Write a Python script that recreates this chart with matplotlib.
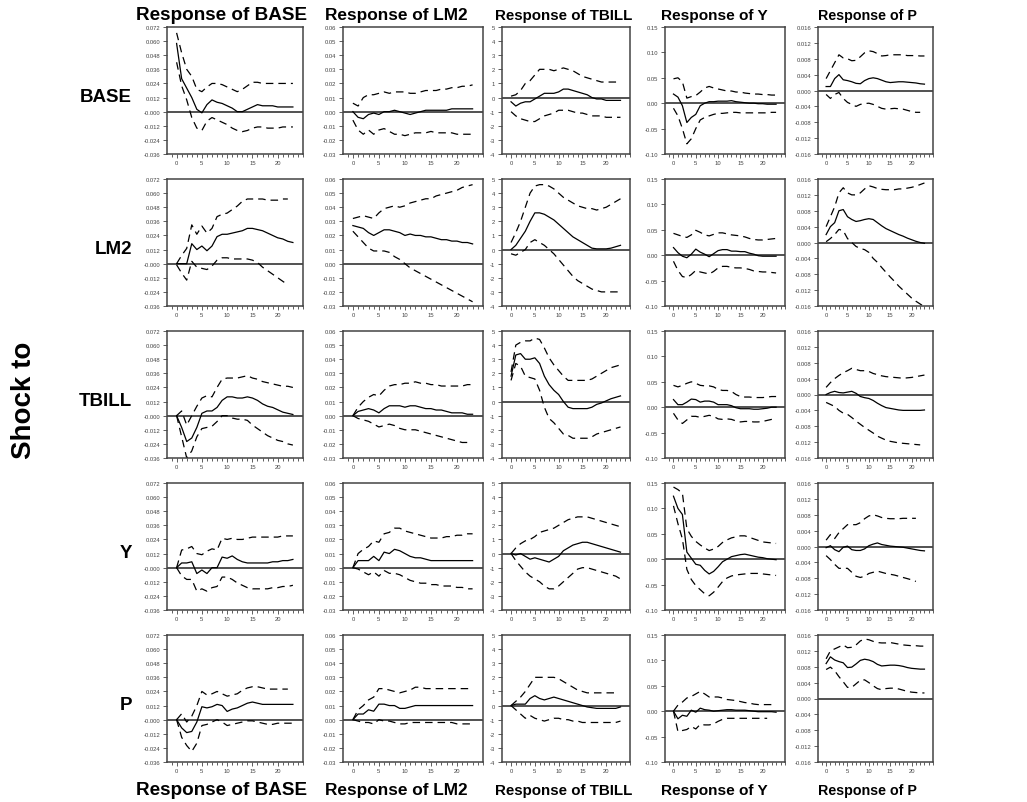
import matplotlib
matplotlib.use('Agg')
import matplotlib.pyplot as plt
from matplotlib.ticker import MultipleLocator

plt.rcParams['font.family'] = ['Liberation Sans', 'DejaVu Sans']

variables = ['BASE', 'LM2', 'TBILL', 'Y', 'P']

# y axis ticks of each response column
base_ticks = [-0.036, -0.024, -0.012, 0.0, 0.012, 0.024, 0.036, 0.048, 0.060, 0.072]
base_labels = ['-0.036', '-0.024', '-0.012', '-0.000', '0.012', '0.024', '0.036',
               '0.048', '0.060', '0.072']
lm2_ticks = [-0.03, -0.02, -0.01, 0.0, 0.01, 0.02, 0.03, 0.04, 0.05, 0.06]
lm2_labels = ['-0.03', '-0.02', '-0.01', '0.00', '0.01', '0.02', '0.03', '0.04',
              '0.05', '0.06']
tbill_ticks = [-4, -3, -2, -1, 0, 1, 2, 3, 4, 5]
tbill_labels = ['-4', '-3', '-2', '-1', '0', '1', '2', '3', '4', '5']
y_ticks = [-0.10, -0.05, 0.0, 0.05, 0.10, 0.15]
y_labels = ['-0.10', '-0.05', '0.00', '0.05', '0.10', '0.15']
p_ticks = [-0.016, -0.012, -0.008, -0.004, 0.0, 0.004, 0.008, 0.012, 0.016]
p_labels = ['-0.016', '-0.012', '-0.008', '-0.004', '0.000', '0.004', '0.008',
            '0.012', '0.016']

# (response, upper band, lower band) for shock -> response
BASE_BASE = (
    [0.058, 0.028, 0.020, 0.012, 0.002, -0.001, 0.006, 0.010, 0.008, 0.007, 0.005, 0.003,
     0.000, 0.000, 0.002, 0.004, 0.006, 0.005, 0.005, 0.005, 0.004, 0.004, 0.004, 0.004],
    [0.067, 0.050, 0.036, 0.030, 0.019, 0.017, 0.021, 0.024, 0.024, 0.023, 0.021, 0.019,
     0.017, 0.019, 0.022, 0.025, 0.025, 0.024, 0.024, 0.024, 0.024, 0.024, 0.024, 0.024],
    [0.042, 0.022, 0.010, -0.005, -0.014, -0.016, -0.008, -0.005, -0.007, -0.009, -0.011, -0.014,
     -0.016, -0.017, -0.016, -0.014, -0.013, -0.013, -0.014, -0.014, -0.014, -0.013, -0.013, -0.013])
BASE_LM2 = (
    [0.000, -0.004, -0.005, -0.002, -0.001, -0.002, 0.000, 0.000, 0.001, 0.000, -0.001, -0.002,
     -0.001, 0.000, 0.001, 0.001, 0.001, 0.001, 0.001, 0.002, 0.002, 0.002, 0.002, 0.002],
    [0.006, 0.004, 0.010, 0.012, 0.012, 0.013, 0.014, 0.013, 0.014, 0.014, 0.014, 0.013,
     0.013, 0.014, 0.015, 0.015, 0.015, 0.016, 0.016, 0.017, 0.017, 0.018, 0.018, 0.019],
    [-0.006, -0.013, -0.016, -0.013, -0.016, -0.013, -0.012, -0.014, -0.016, -0.016, -0.017, -0.016,
     -0.015, -0.015, -0.015, -0.014, -0.015, -0.015, -0.015, -0.015, -0.016, -0.016, -0.016, -0.016])
BASE_TBILL = (
    [-0.3, -0.6, -0.4, -0.3, -0.3, -0.1, 0.1, 0.3, 0.3, 0.3, 0.4, 0.6,
     0.6, 0.5, 0.4, 0.3, 0.2, 0.0, -0.1, -0.1, -0.2, -0.2, -0.2, -0.2],
    [0.1, 0.2, 0.5, 1.0, 1.2, 1.6, 2.0, 2.0, 2.0, 1.9, 2.0, 2.1,
     2.0, 1.9, 1.7, 1.5, 1.4, 1.3, 1.2, 1.1, 1.1, 1.1, 1.1, 1.1],
    [-1.0, -1.3, -1.5, -1.6, -1.7, -1.7, -1.5, -1.3, -1.2, -1.1, -0.9, -0.9,
     -0.9, -1.0, -1.1, -1.1, -1.2, -1.3, -1.3, -1.3, -1.4, -1.4, -1.4, -1.4])
BASE_Y = (
    [0.018, 0.012, -0.005, -0.038, -0.028, -0.022, -0.005, 0.000, 0.003, 0.003, 0.004, 0.004,
     0.004, 0.005, 0.003, 0.002, 0.001, 0.000, 0.000, -0.001, -0.001, -0.002, -0.002, -0.002],
    [0.048, 0.050, 0.042, 0.010, 0.013, 0.015, 0.022, 0.030, 0.033, 0.030, 0.028, 0.026,
     0.024, 0.024, 0.022, 0.022, 0.020, 0.019, 0.018, 0.018, 0.017, 0.017, 0.016, 0.016],
    [-0.010, -0.025, -0.050, -0.080, -0.070, -0.050, -0.033, -0.028, -0.025, -0.022, -0.020, -0.020,
     -0.019, -0.018, -0.018, -0.019, -0.019, -0.019, -0.019, -0.019, -0.019, -0.019, -0.018, -0.018])
BASE_P = (
    [0.0010, 0.0010, 0.0030, 0.0040, 0.0027, 0.0025, 0.0022, 0.0018, 0.0017, 0.0025, 0.0030, 0.0032,
     0.0030, 0.0026, 0.0022, 0.0020, 0.0021, 0.0022, 0.0022, 0.0021, 0.0020, 0.0019, 0.0017, 0.0016],
    [0.0030, 0.0050, 0.0070, 0.0090, 0.0082, 0.0080, 0.0075, 0.0076, 0.0085, 0.0095, 0.0100, 0.0098,
     0.0093, 0.0087, 0.0088, 0.0090, 0.0090, 0.0090, 0.0090, 0.0088, 0.0088, 0.0088, 0.0087, 0.0087],
    [-0.0010, -0.0020, -0.0010, -0.0005, -0.0020, -0.0030, -0.0035, -0.0040, -0.0035, -0.0033, -0.0032,
     -0.0035, -0.0040, -0.0045, -0.0047, -0.0046, -0.0045, -0.0046, -0.0047, -0.0050, -0.0053, -0.0055,
     -0.0055])

LM2_BASE = (
    [0.000, 0.000, 0.000, 0.017, 0.012, 0.015, 0.011, 0.015, 0.023, 0.025, 0.025, 0.026,
     0.027, 0.028, 0.030, 0.030, 0.029, 0.028, 0.026, 0.024, 0.022, 0.021, 0.019, 0.018],
    [0.000, 0.007, 0.013, 0.033, 0.025, 0.032, 0.026, 0.030, 0.040, 0.042, 0.043, 0.046,
     0.049, 0.053, 0.055, 0.055, 0.055, 0.055, 0.054, 0.054, 0.054, 0.055, 0.055],
    [-0.001, -0.008, -0.014, 0.002, -0.003, -0.004, -0.005, -0.002, 0.003, 0.005, 0.005, 0.004,
     0.004, 0.004, 0.004, 0.003, 0.001, -0.003, -0.006, -0.009, -0.012, -0.015, -0.018])
LM2_LM2 = (
    [0.027, 0.026, 0.025, 0.022, 0.020, 0.022, 0.024, 0.024, 0.023, 0.022, 0.020, 0.021,
     0.020, 0.020, 0.019, 0.019, 0.018, 0.017, 0.017, 0.016, 0.016, 0.015, 0.015, 0.014],
    [0.032, 0.033, 0.034, 0.033, 0.032, 0.036, 0.039, 0.040, 0.041, 0.040, 0.041, 0.043,
     0.044, 0.045, 0.046, 0.046, 0.048, 0.049, 0.050, 0.051, 0.052, 0.054, 0.055, 0.056],
    [0.023, 0.019, 0.015, 0.011, 0.009, 0.009, 0.009, 0.008, 0.005, 0.003, 0.000, -0.003,
     -0.005, -0.007, -0.009, -0.011, -0.013, -0.015, -0.017, -0.019, -0.021, -0.023, -0.025, -0.027])
LM2_TBILL = (
    [0.0, 0.3, 0.8, 1.3, 2.0, 2.6, 2.6, 2.5, 2.3, 2.1, 1.8, 1.5,
     1.2, 0.9, 0.7, 0.5, 0.3, 0.1, 0.05, 0.05, 0.05, 0.1, 0.2, 0.3],
    [0.5, 1.2, 2.0, 3.0, 4.0, 4.5, 4.6, 4.6, 4.5, 4.3, 4.0, 3.7,
     3.5, 3.3, 3.1, 3.0, 2.9, 2.9, 2.8, 2.9, 3.0, 3.2, 3.4, 3.6],
    [-0.3, -0.4, -0.2, 0.0, 0.5, 0.7, 0.5, 0.3, 0.0, -0.3, -0.7, -1.1,
     -1.5, -1.9, -2.2, -2.4, -2.6, -2.8, -2.9, -3.0, -3.0, -3.0, -3.0, -3.0])
LM2_Y = (
    [0.015, 0.005, -0.002, -0.005, 0.002, 0.012, 0.006, 0.002, -0.003, 0.003, 0.009, 0.011,
     0.011, 0.008, 0.008, 0.007, 0.007, 0.004, 0.002, -0.001, -0.002, -0.002, -0.002, -0.002],
    [0.043, 0.040, 0.037, 0.035, 0.040, 0.049, 0.045, 0.040, 0.038, 0.041, 0.044, 0.044,
     0.042, 0.040, 0.039, 0.038, 0.036, 0.033, 0.031, 0.030, 0.030, 0.031, 0.032, 0.033],
    [-0.012, -0.030, -0.042, -0.044, -0.038, -0.030, -0.033, -0.035, -0.037, -0.032, -0.025, -0.022,
     -0.022, -0.024, -0.025, -0.025, -0.026, -0.028, -0.031, -0.032, -0.033, -0.033, -0.034, -0.035])
LM2_P = (
    [0.0020, 0.0040, 0.0050, 0.0080, 0.0083, 0.0065, 0.0058, 0.0053, 0.0055, 0.0058, 0.0060, 0.0058,
     0.0050, 0.0042, 0.0035, 0.0030, 0.0025, 0.0020, 0.0016, 0.0011, 0.0007, 0.0003, 0.0000, -0.0002],
    [0.0040, 0.0065, 0.0090, 0.0125, 0.0138, 0.0125, 0.0120, 0.0120, 0.0125, 0.0135, 0.0143, 0.0140,
     0.0136, 0.0134, 0.0133, 0.0133, 0.0133, 0.0135, 0.0135, 0.0137, 0.0139, 0.0142, 0.0146, 0.0150],
    [0.0002, 0.0010, 0.0020, 0.0033, 0.0030, 0.0010, 0.0000, -0.0010, -0.0015, -0.0018, -0.0025, -0.0040,
     -0.0050, -0.0063, -0.0075, -0.0087, -0.0098, -0.0110, -0.0120, -0.0130, -0.0140, -0.0148, -0.0155,
     -0.0162])

TBILL_BASE = (
    [0.000, -0.010, -0.022, -0.019, -0.010, 0.002, 0.004, 0.004, 0.007, 0.013, 0.016, 0.016,
     0.015, 0.015, 0.016, 0.015, 0.013, 0.010, 0.008, 0.007, 0.005, 0.003, 0.002, 0.001],
    [0.000, 0.004, -0.008, 0.000, 0.008, 0.015, 0.017, 0.016, 0.024, 0.031, 0.032, 0.032,
     0.032, 0.033, 0.034, 0.032, 0.031, 0.029, 0.028, 0.027, 0.026, 0.025, 0.025, 0.024],
    [0.000, -0.018, -0.036, -0.030, -0.018, -0.011, -0.010, -0.009, -0.005, 0.000, 0.000, -0.002,
     -0.003, -0.003, -0.004, -0.008, -0.011, -0.014, -0.017, -0.019, -0.021, -0.022, -0.024, -0.025])
TBILL_LM2 = (
    [0.000, 0.003, 0.004, 0.005, 0.004, 0.002, 0.005, 0.007, 0.007, 0.007, 0.006, 0.007,
     0.007, 0.006, 0.005, 0.005, 0.004, 0.004, 0.003, 0.002, 0.002, 0.002, 0.001, 0.001],
    [0.000, 0.006, 0.010, 0.013, 0.015, 0.014, 0.018, 0.021, 0.022, 0.022, 0.023, 0.023,
     0.024, 0.023, 0.023, 0.022, 0.022, 0.021, 0.021, 0.021, 0.021, 0.021, 0.022, 0.022],
    [0.000, -0.002, -0.003, -0.004, -0.006, -0.008, -0.007, -0.006, -0.007, -0.009, -0.010, -0.010,
     -0.010, -0.011, -0.012, -0.013, -0.014, -0.015, -0.016, -0.017, -0.018, -0.019, -0.019])
TBILL_TBILL = (
    [1.8, 3.3, 3.4, 3.0, 3.0, 3.1, 2.7, 1.8, 1.2, 0.8, 0.5, 0.0,
     -0.4, -0.5, -0.5, -0.5, -0.5, -0.4, -0.2, -0.1, 0.05, 0.2, 0.3, 0.4],
    [2.1, 4.0, 4.2, 4.3, 4.3, 4.5, 4.4, 3.8, 3.1, 2.6, 2.2, 1.8,
     1.5, 1.5, 1.5, 1.5, 1.5, 1.6, 1.8, 2.0, 2.2, 2.4, 2.5, 2.6],
    [1.5, 2.7, 2.5, 1.8, 1.7, 1.6, 0.8, -0.4, -1.2, -1.5, -1.9, -2.3,
     -2.4, -2.6, -2.6, -2.6, -2.6, -2.5, -2.3, -2.2, -2.1, -2.0, -1.9, -1.8])
TBILL_Y = (
    [0.015, 0.005, 0.005, 0.010, 0.016, 0.015, 0.010, 0.012, 0.012, 0.010, 0.005, 0.005,
     0.005, 0.003, -0.001, -0.003, -0.003, -0.003, -0.004, -0.004, -0.003, -0.002, 0.000, 0.000],
    [0.043, 0.040, 0.043, 0.047, 0.050, 0.047, 0.043, 0.042, 0.042, 0.040, 0.035, 0.033,
     0.033, 0.031, 0.025, 0.021, 0.020, 0.020, 0.019, 0.019, 0.019, 0.020, 0.021, 0.021],
    [-0.012, -0.025, -0.032, -0.025, -0.018, -0.018, -0.020, -0.018, -0.016, -0.018, -0.023, -0.024,
     -0.023, -0.024, -0.027, -0.029, -0.028, -0.028, -0.029, -0.029, -0.028, -0.026, -0.024, -0.022])
TBILL_P = (
    [0.0000, 0.0005, 0.0008, 0.0005, 0.0004, 0.0006, 0.0008, 0.0003, -0.0005, -0.0008, -0.0010, -0.0015,
     -0.0022, -0.0028, -0.0033, -0.0035, -0.0037, -0.0039, -0.0040, -0.0040, -0.0040, -0.0040, -0.0040,
     -0.0039],
    [0.0018, 0.0030, 0.0040, 0.0048, 0.0055, 0.0060, 0.0066, 0.0063, 0.0060, 0.0060, 0.0058, 0.0053,
     0.0050, 0.0047, 0.0045, 0.0044, 0.0043, 0.0042, 0.0041, 0.0042, 0.0043, 0.0045, 0.0047, 0.0049],
    [-0.0020, -0.0025, -0.0030, -0.0040, -0.0047, -0.0050, -0.0058, -0.0067, -0.0075, -0.0083, -0.0090,
     -0.0097, -0.0105, -0.0110, -0.0115, -0.0118, -0.0120, -0.0122, -0.0123, -0.0124, -0.0125, -0.0126,
     -0.0127])

Y_BASE = (
    [0.000, 0.004, 0.004, 0.005, -0.005, -0.002, -0.005, 0.000, 0.000, 0.009, 0.008, 0.010,
     0.007, 0.005, 0.004, 0.004, 0.004, 0.004, 0.004, 0.005, 0.005, 0.006, 0.006, 0.007],
    [0.000, 0.015, 0.016, 0.018, 0.012, 0.011, 0.014, 0.016, 0.015, 0.025, 0.024, 0.025,
     0.024, 0.024, 0.025, 0.026, 0.026, 0.026, 0.026, 0.026, 0.026, 0.027, 0.027, 0.027],
    [0.000, -0.007, -0.010, -0.010, -0.020, -0.018, -0.020, -0.017, -0.016, -0.008, -0.008, -0.010,
     -0.013, -0.015, -0.017, -0.018, -0.018, -0.018, -0.018, -0.017, -0.017, -0.016, -0.016, -0.015])
Y_LM2 = (
    [0.000, 0.005, 0.005, 0.005, 0.008, 0.005, 0.011, 0.010, 0.013, 0.012, 0.010, 0.008,
     0.007, 0.007, 0.006, 0.005, 0.005, 0.005, 0.005, 0.005, 0.005, 0.005, 0.005, 0.005],
    [0.000, 0.010, 0.013, 0.015, 0.019, 0.018, 0.024, 0.025, 0.028, 0.028, 0.026, 0.025,
     0.024, 0.023, 0.022, 0.021, 0.021, 0.021, 0.022, 0.022, 0.023, 0.023, 0.024, 0.024],
    [0.000, -0.001, -0.003, -0.005, -0.003, -0.006, -0.002, -0.004, -0.004, -0.005, -0.007, -0.009,
     -0.010, -0.011, -0.011, -0.012, -0.012, -0.013, -0.013, -0.013, -0.014, -0.014, -0.015, -0.015])
Y_TBILL = (
    [0.0, -0.1, 0.0, -0.2, -0.4, -0.3, -0.4, -0.5, -0.6, -0.4, -0.2, 0.2,
     0.4, 0.6, 0.7, 0.8, 0.8, 0.7, 0.6, 0.5, 0.4, 0.3, 0.2, 0.1],
    [0.0, 0.4, 0.7, 0.9, 1.0, 1.2, 1.5, 1.6, 1.7, 1.8, 2.0, 2.2,
     2.4, 2.5, 2.6, 2.6, 2.6, 2.5, 2.4, 2.3, 2.2, 2.1, 2.0, 1.9],
    [0.0, -0.5, -0.9, -1.3, -1.6, -1.8, -2.0, -2.3, -2.5, -2.5, -2.3, -2.0,
     -1.7, -1.4, -1.1, -1.0, -1.0, -1.1, -1.2, -1.3, -1.4, -1.5, -1.6, -1.8])
Y_Y = (
    [0.124, 0.100, 0.088, 0.014, 0.002, -0.010, -0.012, -0.022, -0.029, -0.024, -0.015, -0.005,
     0.000, 0.005, 0.007, 0.009, 0.010, 0.008, 0.006, 0.004, 0.003, 0.001, 0.000, -0.001],
    [0.142, 0.137, 0.130, 0.060, 0.045, 0.035, 0.028, 0.022, 0.017, 0.020, 0.025, 0.033,
     0.038, 0.042, 0.044, 0.046, 0.046, 0.043, 0.040, 0.037, 0.034, 0.033, 0.032, 0.031],
    [0.105, 0.070, 0.040, -0.020, -0.040, -0.052, -0.060, -0.068, -0.072, -0.065, -0.055, -0.044,
     -0.037, -0.033, -0.031, -0.030, -0.029, -0.028, -0.028, -0.028, -0.029, -0.030, -0.031, -0.032])
Y_P = (
    [-0.0003, 0.0002, -0.0008, -0.0013, -0.0002, 0.0001, -0.0008, -0.0010, -0.0010, -0.0006, 0.0002,
     0.0006, 0.0009, 0.0005, 0.0003, 0.0001, 0.0000, -0.0001, -0.0002, -0.0004, -0.0006, -0.0008,
     -0.0010, -0.0011],
    [0.0016, 0.0030, 0.0020, 0.0035, 0.0045, 0.0055, 0.0055, 0.0055, 0.0060, 0.0070, 0.0077, 0.0080,
     0.0077, 0.0073, 0.0071, 0.0070, 0.0070, 0.0070, 0.0071, 0.0071, 0.0071, 0.0071],
    [-0.0023, -0.0033, -0.0045, -0.0055, -0.0055, -0.0055, -0.0065, -0.0075, -0.0078, -0.0075, -0.0068,
     -0.0065, -0.0062, -0.0065, -0.0068, -0.0070, -0.0072, -0.0075, -0.0078, -0.0081, -0.0084, -0.0088])

P_BASE = (
    [0.000, -0.007, -0.011, -0.010, -0.002, 0.011, 0.010, 0.011, 0.013, 0.012, 0.007, 0.009,
     0.010, 0.012, 0.014, 0.015, 0.014, 0.013, 0.013, 0.013, 0.013, 0.013, 0.013, 0.013],
    [0.000, 0.005, -0.002, 0.003, 0.012, 0.024, 0.021, 0.022, 0.024, 0.022, 0.020, 0.021,
     0.022, 0.025, 0.027, 0.028, 0.028, 0.027, 0.026, 0.026, 0.026, 0.026, 0.026],
    [0.000, -0.015, -0.022, -0.027, -0.020, -0.005, -0.004, -0.002, 0.000, -0.002, -0.005, -0.004,
     -0.003, -0.002, -0.001, -0.001, -0.002, -0.003, -0.004, -0.004, -0.003, -0.003, -0.003, -0.003])
P_LM2 = (
    [0.000, 0.004, 0.004, 0.007, 0.006, 0.011, 0.011, 0.010, 0.010, 0.008, 0.008, 0.009,
     0.010, 0.010, 0.010, 0.010, 0.010, 0.010, 0.010, 0.010, 0.010, 0.010, 0.010, 0.010],
    [0.000, 0.007, 0.010, 0.014, 0.016, 0.022, 0.022, 0.021, 0.020, 0.019, 0.020, 0.021,
     0.023, 0.023, 0.022, 0.022, 0.022, 0.022, 0.022, 0.022, 0.022, 0.022, 0.022, 0.022],
    [0.000, -0.001, -0.002, -0.002, -0.003, 0.000, -0.001, -0.001, -0.002, -0.003, -0.003, -0.002,
     -0.002, -0.002, -0.002, -0.002, -0.002, -0.002, -0.002, -0.002, -0.003, -0.003, -0.003, -0.003])
P_TBILL = (
    [0.0, 0.1, 0.1, 0.1, 0.5, 0.7, 0.5, 0.4, 0.5, 0.6, 0.5, 0.4,
     0.3, 0.2, 0.1, 0.0, -0.1, -0.15, -0.2, -0.2, -0.2, -0.2, -0.2, -0.1],
    [0.0, 0.3, 0.6, 1.0, 1.5, 2.0, 2.0, 2.0, 2.0, 2.0, 1.9, 1.7,
     1.5, 1.3, 1.1, 1.0, 0.9, 0.9, 0.9, 0.9, 0.9, 0.9, 0.9],
    [0.0, -0.3, -0.6, -0.9, -0.7, -0.9, -1.0, -1.1, -1.0, -0.9, -0.9, -1.0,
     -1.0, -1.1, -1.1, -1.2, -1.2, -1.2, -1.2, -1.2, -1.2, -1.2, -1.2, -1.1])
P_Y = (
    [0.000, -0.015, -0.008, -0.010, 0.002, -0.002, 0.006, 0.003, 0.002, 0.000, 0.001, 0.002,
     0.003, 0.003, 0.002, 0.002, 0.002, 0.001, 0.000, -0.001, -0.001, -0.001, -0.001, -0.002],
    [0.000, 0.012, 0.018, 0.026, 0.029, 0.034, 0.039, 0.034, 0.028, 0.028, 0.028, 0.026,
     0.023, 0.022, 0.021, 0.019, 0.017, 0.016, 0.014, 0.013, 0.013, 0.013, 0.013, 0.012],
    [0.000, -0.040, -0.038, -0.036, -0.030, -0.035, -0.026, -0.027, -0.027, -0.025, -0.020, -0.016,
     -0.014, -0.014, -0.014, -0.014, -0.014, -0.014, -0.014, -0.014, -0.014, -0.014])
P_P = (
    [0.0088, 0.0105, 0.0097, 0.0093, 0.0090, 0.0078, 0.0079, 0.0087, 0.0096, 0.0099, 0.0097, 0.0093,
     0.0086, 0.0082, 0.0083, 0.0084, 0.0084, 0.0083, 0.0081, 0.0078, 0.0076, 0.0075, 0.0074, 0.0074],
    [0.0100, 0.0120, 0.0125, 0.0130, 0.0135, 0.0128, 0.0129, 0.0135, 0.0145, 0.0150, 0.0148, 0.0144,
     0.0141, 0.0140, 0.0140, 0.0141, 0.0139, 0.0137, 0.0135, 0.0134, 0.0133, 0.0133, 0.0132, 0.0132],
    [0.0073, 0.0079, 0.0070, 0.0055, 0.0042, 0.0028, 0.0028, 0.0037, 0.0046, 0.0047, 0.0040, 0.0032,
     0.0025, 0.0022, 0.0025, 0.0026, 0.0026, 0.0024, 0.0021, 0.0018, 0.0016, 0.0015, 0.0014, 0.0014])

grid = [
    [BASE_BASE, BASE_LM2, BASE_TBILL, BASE_Y, BASE_P],
    [LM2_BASE, LM2_LM2, LM2_TBILL, LM2_Y, LM2_P],
    [TBILL_BASE, TBILL_LM2, TBILL_TBILL, TBILL_Y, TBILL_P],
    [Y_BASE, Y_LM2, Y_TBILL, Y_Y, Y_P],
    [P_BASE, P_LM2, P_TBILL, P_Y, P_P],
]
col_ticks = [(base_ticks, base_labels), (lm2_ticks, lm2_labels), (tbill_ticks, tbill_labels),
             (y_ticks, y_labels), (p_ticks, p_labels)]

# layout in pixels
W, H = 1027, 803
col_left = [167, 343, 502, 665, 818]
col_width = [136, 140, 128, 120, 115]
row_top = [28, 180, 332, 484, 636]
row_h = 127
title_x = [222, 396, 564, 714, 867]
title_size = [13.6, 12.4, 10.9, 11.1, 10.3]   # source columns were squeezed differently

fig = plt.figure(figsize=(W / 100, H / 100), dpi=100)

for r in range(5):
    for c in range(5):
        ax = fig.add_axes([col_left[c] / W, 1 - (row_top[r] + row_h) / H,
                           col_width[c] / W, row_h / H])
        irf, hi, lo = grid[r][c]
        ticks, labels = col_ticks[c]
        ax.axhline(0, color='#222222', lw=1.1, zorder=1)
        ax.plot(range(len(irf)), irf, color='black', lw=0.9, zorder=3)
        ax.plot(range(len(hi)), hi, color='black', lw=0.9, dashes=(6, 4), zorder=2)
        ax.plot(range(len(lo)), lo, color='black', lw=0.9, dashes=(6, 4), zorder=2)
        ax.set_xlim(-1.9, 25)
        ax.set_ylim(ticks[0], ticks[-1])
        ax.set_yticks(ticks)
        ax.set_yticklabels(labels)
        ax.set_xticks([0, 5, 10, 15, 20])
        ax.xaxis.set_minor_locator(MultipleLocator(1))
        ax.tick_params(axis='both', which='major', direction='out', length=3, width=0.6,
                       labelsize=4.2, labelcolor='#444444', color='#444444', pad=2)
        ax.tick_params(axis='x', which='major', pad=1.5)
        ax.tick_params(axis='x', which='minor', direction='out', length=2, width=0.6,
                       color='#444444')
        for sp in ax.spines.values():
            sp.set_color('#444444')
            sp.set_linewidth(1.1)

for c in range(5):
    fig.text(title_x[c] / W, 1 - 20 / H, 'Response of ' + variables[c],
             ha='center', va='baseline', fontsize=title_size[c], fontweight='bold')
    fig.text(title_x[c] / W, 1 - 795 / H, 'Response of ' + variables[c],
             ha='center', va='baseline', fontsize=title_size[c], fontweight='bold')

for r in range(5):
    fig.text(132 / W, 1 - (row_top[r] + row_h / 2 + 11) / H, variables[r],
             ha='right', va='baseline', fontsize=13.5, fontweight='bold')

fig.text(24 / W, 1 - 400 / H, 'Shock to', rotation=90, ha='center', va='center',
         fontsize=20, fontweight='bold')

fig.savefig('out.png', dpi=100)
